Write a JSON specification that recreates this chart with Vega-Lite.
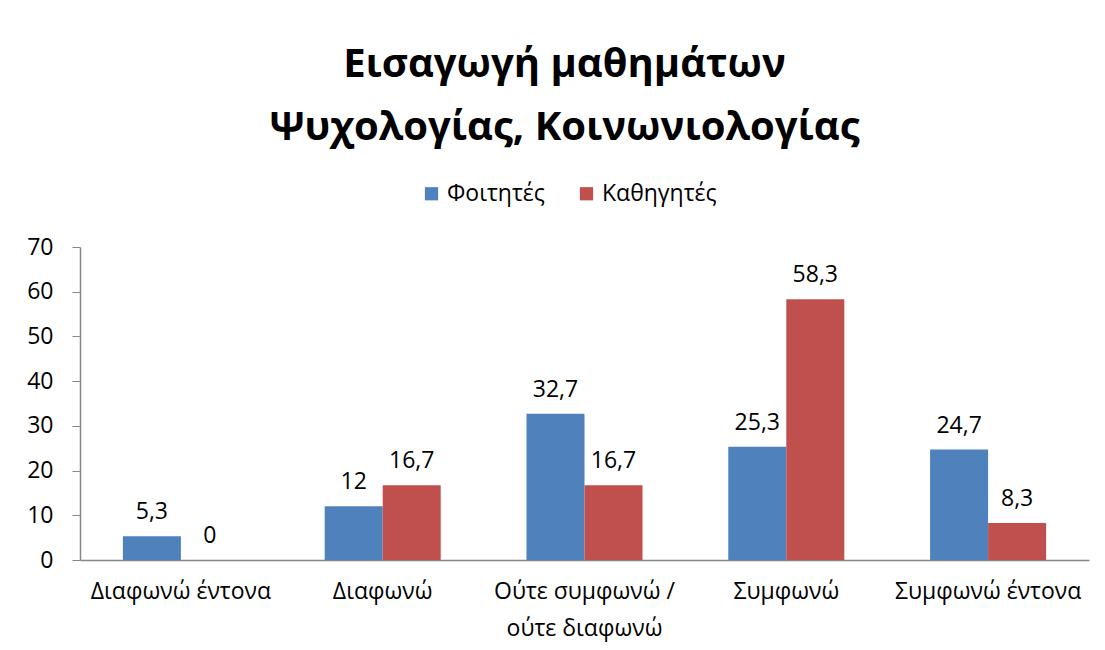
{
  "$schema": "https://vega.github.io/schema/vega-lite/v6.json",
  "autosize": {"type": "none"},
  "width": 1009,
  "height": 313,
  "padding": {"left": 80, "top": 247, "right": 16, "bottom": 90},
  "background": "white",
  "config": {
    "font": "Open Sans",
    "view": {"stroke": null},
    "locale": {"number": {"decimal": ",", "thousands": ".", "grouping": [3], "currency": ["", " €"]}}
  },
  "title": {
    "text": ["Εισαγωγή μαθημάτων", "Ψυχολογίας, Κοινωνιολογίας"],
    "font": "Open Sans",
    "fontSize": 40,
    "fontWeight": "bold",
    "color": "black",
    "lineHeight": 63,
    "anchor": "middle",
    "frame": "group",
    "dx": -20,
    "offset": 34
  },
  "data": {
    "values": [
      {"cat": "Διαφωνώ έντονα", "group": "Φοιτητές", "value": 5.3},
      {"cat": "Διαφωνώ έντονα", "group": "Καθηγητές", "value": 0},
      {"cat": "Διαφωνώ", "group": "Φοιτητές", "value": 12},
      {"cat": "Διαφωνώ", "group": "Καθηγητές", "value": 16.7},
      {"cat": "Ούτε συμφωνώ / ούτε διαφωνώ", "group": "Φοιτητές", "value": 32.7},
      {"cat": "Ούτε συμφωνώ / ούτε διαφωνώ", "group": "Καθηγητές", "value": 16.7},
      {"cat": "Συμφωνώ", "group": "Φοιτητές", "value": 25.3},
      {"cat": "Συμφωνώ", "group": "Καθηγητές", "value": 58.3},
      {"cat": "Συμφωνώ έντονα", "group": "Φοιτητές", "value": 24.7},
      {"cat": "Συμφωνώ έντονα", "group": "Καθηγητές", "value": 8.3}
    ]
  },
  "encoding": {
    "x": {
      "field": "cat",
      "type": "nominal",
      "sort": null,
      "scale": {"paddingInner": 0.425, "paddingOuter": 0.2125},
      "axis": {
        "title": null,
        "labelAngle": 0,
        "labelFontSize": 23,
        "labelColor": "black",
        "labelPadding": 20,
        "labelLineHeight": 37,
        "labelLimit": 0,
        "ticks": false,
        "domainColor": "#868686",
        "domainWidth": 1.5,
        "labelExpr": "indexof(datum.label, '/') > 0 ? ['Ούτε συμφωνώ /', 'ούτε διαφωνώ'] : datum.label"
      }
    },
    "xOffset": {
      "field": "group",
      "type": "nominal",
      "sort": ["Φοιτητές", "Καθηγητές"],
      "scale": {"paddingInner": 0, "paddingOuter": 0}
    },
    "y": {
      "field": "value",
      "type": "quantitative",
      "scale": {"domain": [0, 70], "nice": false},
      "axis": {
        "title": null,
        "values": [0, 10, 20, 30, 40, 50, 60, 70],
        "grid": false,
        "labelFontSize": 23,
        "labelColor": "black",
        "labelPadding": 19,
        "tickSize": 8,
        "tickColor": "#868686",
        "domainColor": "#868686",
        "domainWidth": 1.5
      }
    }
  },
  "layer": [
    {
      "mark": {"type": "bar"},
      "encoding": {
        "color": {
          "field": "group",
          "type": "nominal",
          "sort": ["Φοιτητές", "Καθηγητές"],
          "scale": {"domain": ["Φοιτητές", "Καθηγητές"], "range": ["#4F81BD", "#C0504D"]},
          "legend": {
            "title": null,
            "orient": "none",
            "direction": "horizontal",
            "legendX": 340,
            "legendY": -65,
            "symbolType": "square",
            "symbolSize": 175,
            "symbolStrokeWidth": 0,
            "labelFontSize": 23,
            "labelColor": "black",
            "labelOffset": 4,
            "columnPadding": 30
          }
        }
      }
    },
    {
      "mark": {"type": "text", "fontSize": 23, "color": "black", "baseline": "alphabetic", "dy": -17},
      "encoding": {
        "text": {"field": "value", "type": "quantitative", "format": "~r"}
      }
    }
  ]
}
